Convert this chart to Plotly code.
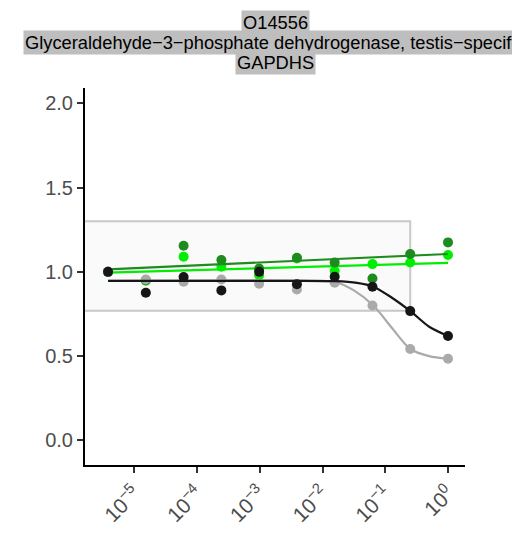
import plotly.graph_objects as go

# ---- data ----
conc = [3.815e-6, 1.526e-5, 6.104e-5, 2.441e-4, 9.766e-4, 3.906e-3, 1.5625e-2, 6.25e-2, 0.25, 1.0]

dark_green_pts = [1.00, 0.95, 1.155, 1.07, 1.02, 1.084, 1.056, 0.961, 1.106, 1.175]
bright_green_pts = [1.00, 0.947, 1.09, 1.03, 0.98, 1.08, 1.005, 1.046, 1.056, 1.10]
grey_pts = [1.00, 0.955, 0.941, 0.955, 0.93, 0.896, 0.935, 0.80, 0.542, 0.484]
black_pts = [1.00, 0.876, 0.969, 0.89, 1.00, 0.926, 0.971, 0.912, 0.767, 0.619]

# fitted curves
dark_green_fit_x = [3.815e-6, 1.0]
dark_green_fit_y = [1.015, 1.106]
bright_green_fit_x = [3.815e-6, 1.0]
bright_green_fit_y = [0.995, 1.054]

black_fit_x = [3.815e-6, 3.16e-3, 1.58e-2, 3.55e-2, 6.46e-2, 0.126, 0.251, 0.501, 1.0]
black_fit_y = [0.947, 0.947, 0.945, 0.935, 0.912, 0.848, 0.767, 0.674, 0.619]
grey_fit_x = [3.815e-6, 6.31e-3, 1.58e-2, 3.16e-2, 6.46e-2, 0.126, 0.251, 0.501, 1.0]
grey_fit_y = [0.947, 0.947, 0.94, 0.89, 0.80, 0.67, 0.542, 0.50, 0.484]

box_x_max = 0.25
box_y = [1 / 1.3, 1.3]

title_lines = ["O14556", "Glyceraldehyde\u22123\u2212phosphate dehydrogenase, testis\u2212specific", "GAPDHS"]

x_tick_vals = [1e-5, 1e-4, 1e-3, 1e-2, 1e-1, 1]
x_tick_text = ["10<sup>\u22125</sup>", "10<sup>\u22124</sup>", "10<sup>\u22123</sup>",
               "10<sup>\u22122</sup>", "10<sup>\u22121</sup>", "10<sup>0</sup>"]
y_tick_vals = [0, 0.5, 1.0, 1.5, 2.0]
y_tick_text = ["0.0", "0.5", "1.0", "1.5", "2.0"]

x_range_log = [-5.786, 0.271]
y_range = [-0.147, 2.092]

# ---- styles ----
DG = "#1E8B1E"
BG = "#00EE00"
GR = "#AAAAAA"
BK = "#161616"
FONT = "Liberation Sans, Arial, sans-serif"
PAGE_OFF = 8  # default body margin of the html page

fig = go.Figure()

fig.add_shape(type="rect", xref="x", yref="y",
              x0=10 ** x_range_log[0] / 10, x1=box_x_max, y0=box_y[0], y1=box_y[1],
              fillcolor="#FAFAFA", line=dict(color="#C8C8C8", width=2), layer="below")

series = [
    (bright_green_pts, bright_green_fit_x, bright_green_fit_y, BG, "linear"),
    (dark_green_pts, dark_green_fit_x, dark_green_fit_y, DG, "linear"),
    (grey_pts, grey_fit_x, grey_fit_y, GR, "spline"),
    (black_pts, black_fit_x, black_fit_y, BK, "spline"),
]
for pts, fx, fy, col, shape in series:
    fig.add_trace(go.Scatter(x=fx, y=fy, mode="lines",
                             line=dict(color=col, width=2.2, shape=shape, smoothing=0.8),
                             hoverinfo="skip", showlegend=False))
    fig.add_trace(go.Scatter(x=conc, y=pts, mode="markers",
                             marker=dict(color=col, size=10), showlegend=False))

title_y_px = [22.3, 42.7, 62.7]
W, H = 520 - PAGE_OFF, 533 - PAGE_OFF
ml, mr, mt, mb = 85 - PAGE_OFF, 55, 88 - PAGE_OFF, 68
ph = H - mt - mb
for txt, ypx in zip(title_lines, title_y_px):
    fig.add_annotation(text=txt, xref="paper", yref="paper",
                       x=0.5, y=(H - mb - (ypx - PAGE_OFF)) / ph, xanchor="center", yanchor="middle",
                       showarrow=False, bgcolor="#BEBEBE", borderpad=1,
                       font=dict(family=FONT, size=18.3, color="#000000"))

fig.update_layout(
    width=W, height=H,
    margin=dict(l=ml, r=mr, t=mt, b=mb, autoexpand=False),
    paper_bgcolor="white", plot_bgcolor="white",
    font=dict(family=FONT),
)
fig.update_xaxes(type="log", range=x_range_log, showgrid=False, zeroline=False,
                 automargin=False,
                 showline=True, linecolor="black", linewidth=2,
                 ticks="outside", ticklen=6, tickwidth=1.5, tickcolor="#333333",
                 tickvals=x_tick_vals, ticktext=x_tick_text, tickangle=-45,
                 tickfont=dict(size=21, color="#4D4D4D", family=FONT))
fig.update_yaxes(range=y_range, showgrid=False, zeroline=False,
                 automargin=False,
                 showline=True, linecolor="black", linewidth=2,
                 ticks="outside", ticklen=6, tickwidth=1.5, tickcolor="#333333",
                 tickvals=y_tick_vals, ticktext=y_tick_text,
                 tickfont=dict(size=20, color="#4D4D4D", family=FONT))

fig.write_html("out.html")
